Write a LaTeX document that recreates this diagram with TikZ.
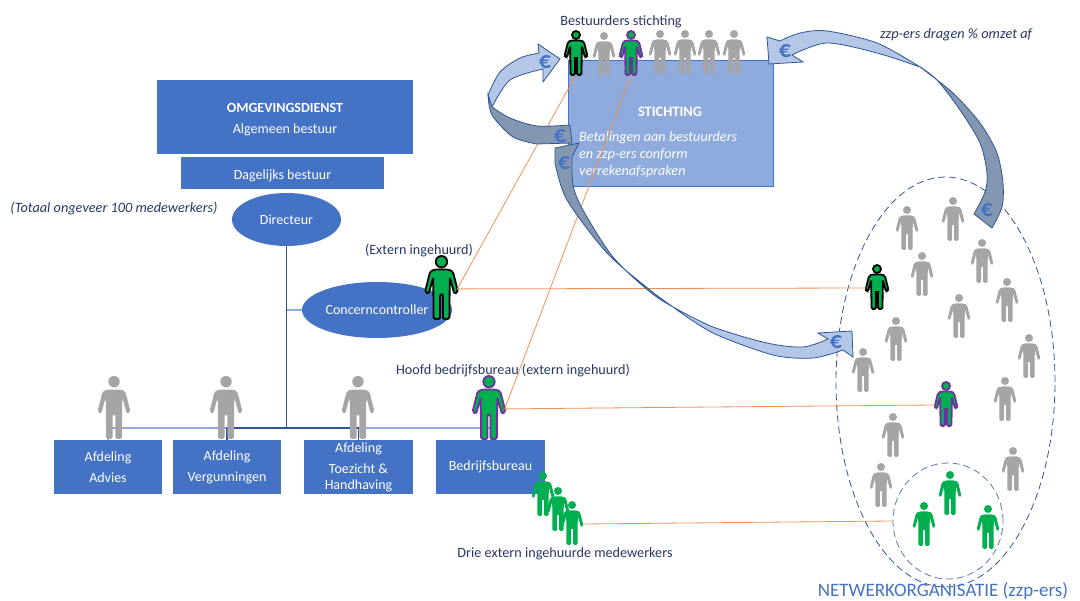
\documentclass[tikz,border=0pt]{standalone}
\usepackage{fontspec}
\setmainfont{Carlito}
\usetikzlibrary{positioning,shapes.geometric}
\definecolor{odblauw}{RGB}{68,114,196}
\definecolor{stichtblauw}{RGB}{143,170,220}
\definecolor{pijllicht}{RGB}{180,199,231}
\definecolor{pijldonker}{RGB}{132,151,176}
\definecolor{pijlrand}{RGB}{47,85,151}
\definecolor{tekstblauw}{RGB}{38,56,100}
\definecolor{lijnoranje}{RGB}{240,145,80}
\definecolor{persgrijs}{RGB}{165,165,165}
\definecolor{persgroen}{RGB}{0,176,80}
\definecolor{perspaars}{RGB}{112,48,160}
\tikzset{
	blok/.style={fill=odblauw, text=white, inner sep=0pt, align=center, font=\fontsize{14}{16}\selectfont},
	ovaal/.style={blok, ellipse},
	label/.style={text=tekstblauw, inner sep=0pt, font=\fontsize{14.2}{16}\selectfont},
	euro/.style={text=odblauw, inner sep=0pt, font=\fontsize{24}{24}\selectfont\bfseries},
	oranje/.style={draw=lijnoranje, line width=0.8pt},
	lijnlicht/.style={draw=stichtblauw, line width=1.3pt},
	lijndonker/.style={draw=pijlrand, line width=1.3pt},
	licht/.style={fill=pijllicht, draw=pijlrand, line width=0.8pt, line join=miter},
	donker/.style={fill=pijldonker, draw=pijlrand, line width=0.8pt},
	kring/.style={draw=#1, dashed, dash pattern=on 7pt off 4pt, ellipse, inner sep=0pt, line width=0.8pt},
	grijs/.style={fill=persgrijs},
	groen/.style={fill=persgroen},
	zwart/.style={fill=persgroen, draw=black, line width=1.8pt},
	paars/.style={fill=persgroen, draw=perspaars, line width=1.8pt},
	persoon/.pic={
		\path[pic actions] (0,4) circle (4);
		\path[pic actions, rounded corners=1.5] (-5,9.5) -- (5,9.5) -- (8,11) -- (11.5,25) -- (9,26.5) -- (5.8,15)
			-- (5.5,44) -- (1,44) -- (1,27) -- (-1,27) -- (-1,44) -- (-5.5,44) -- (-5.8,15) -- (-9,26.5) -- (-11.5,25) -- (-8,11) -- cycle;
		\coordinate (-rechts) at (11,23);
		\coordinate (-links) at (-11,23);
		\coordinate (-voet) at (0,44);
	}
}
\begin{document}
\begin{tikzpicture}[x=1pt, y=-1pt]
	\useasboundingbox (0,0) rectangle (1080,601);

	% organisatie links
	\node[blok, minimum width=256, minimum height=74] (algemeen) at (285,117) {\rule{0pt}{15pt}\textbf{OMGEVINGSDIENST}\\[5pt]Algemeen bestuur};
	\node[blok, minimum width=203, minimum height=32.5] (dagelijks) at (282.5,173.2) {\rule{0pt}{15pt}Dagelijks bestuur};
	\node[ovaal, minimum width=109, minimum height=53] (directeur) at (286.5,219.5) {Directeur};
	\node[ovaal, minimum width=150, minimum height=56] (concern) at (377,310) {Concerncontroller};
	\node[blok, minimum width=108.5, minimum height=54] (advies) at (108,467) {Afdeling\\[5pt]Advies};
	\node[blok, minimum width=108, minimum height=54] (vergunning) at (227,467) {Afdeling\\[5pt]Vergunningen};
	\node[blok, minimum width=109, minimum height=54] (toezicht) at (358.5,467) {Afdeling\\[5pt]Toezicht \&\\Handhaving};
	\node[blok, minimum width=108.5, minimum height=54] (bureau) at (490.5,467) {Bedrijfsbureau};

	\coordinate (hub) at (directeur.south |- 0,428);
	\draw[lijnlicht] (hub) -| (advies.north);
	\draw[lijnlicht] (hub) -| (bureau.north);
	\draw[lijnlicht] (directeur.south |- concern.west) -- (concern.west);
	\draw[lijndonker] (hub) -| (vergunning.north);
	\draw[lijndonker] (hub) -| (toezicht.north);
	\draw[lijndonker] (directeur.south) -- (hub);

	% stichting en netwerk
	\node[fill=stichtblauw, draw=odblauw, line width=0.9pt, minimum width=205, minimum height=126, inner sep=0pt] (stichting) at (670.5,123) {};
	\node[text=white, inner sep=0pt, font=\fontsize{14.4}{16}\selectfont\bfseries] (stichtkop) at (670,112) {STICHTING};
	\node[inner sep=0pt, text=white, align=left, anchor=north west, font=\fontsize{14.2}{17}\selectfont\itshape] (stichttekst) at (579,131) {Betalingen aan bestuurders\\en zzp-ers conform\\verrekenafspraken};
	\node[kring=pijlrand, minimum width=219, minimum height=410] (netwerk) at (945.5,382) {};
	\node[kring=pijlrand!80, minimum width=110, minimum height=116] (extern) at (948,521) {};

	% personen
	\foreach \x/\y in {604/32,660/30,685/30,709/30,734/30,907/206,953/197,982/239,922/252,1007/278,959/294,896/317,863/348,1029/334,1005/377,893/413,881/463,1013/447}
		\pic[grijs] at (\x,\y) {persoon};
	\foreach \x in {114,226,358}
		\pic[grijs, scale=1.43] at (\x,376) {persoon};
	\pic[zwart] (bestzwart) at (576,31) {persoon};
	\pic[paars] (bestpaars) at (631,31) {persoon};
	\pic[zwart] (netzwart) at (877,265) {persoon};
	\pic[paars] (netpaars) at (946,382) {persoon};
	\pic[zwart, scale=1.43] (ctrl) at (441.5,256) {persoon};
	\pic[paars, scale=1.43] (hoofd) at (489,376) {persoon};
	\foreach \x/\y/\n in {543/472/a,558/487/b,572/501/c}
		\pic[groen] (drie\n) at (\x,\y) {persoon};
	\foreach \x/\y in {950/471,924/502,988/505}
		\pic[groen] at (\x,\y) {persoon};

	% lijnen
	\draw[oranje] (ctrl-rechts) -- (bestzwart-voet);
	\draw[oranje] (hoofd-rechts) -- (bestpaars-voet);
	\draw[oranje] (ctrl-rechts) -- (netzwart-links);
	\draw[oranje] (hoofd-rechts) -- (netpaars-links);
	\draw[oranje] (driec-rechts) -- (extern.west);

	% geldstromen
	\draw[donker] (555,148) -- plot[smooth] coordinates {(555,163) (567,200) (607,253) (650,290) (673,307)} -- plot[smooth] coordinates {(673,307) (650,292) (613,257) (583,210) (573,185) (572,157)} -- (579,143) -- cycle;
	\draw[licht] (673,307) -- plot[smooth] coordinates {(673,307) (713,333) (773,355) (813,358) (843,350)} -- (853,357) -- (852,331) -- (818,333) -- (828,339) -- plot[smooth] coordinates {(828,339) (803,347) (767,343) (713,327) (673,307)} -- cycle;
	\draw[licht] (560,59) -- (543,82) -- (543,69) -- plot[smooth] coordinates {(543,69) (510,80) (492,107)} -- (488,95) -- plot[smooth] coordinates {(488,95) (500,72) (520,58) (539,53)} -- (538,44) -- cycle;
	\draw[donker] (488,95) -- plot[smooth] coordinates {(488,95) (492,115) (513,137) (537,144)} -- (572,143) -- (570,125) -- plot[smooth] coordinates {(570,125) (537,126) (510,118) (492,107)} -- cycle;
	\draw[licht] (767,37) -- (780,41) -- plot[smooth] coordinates {(780,41) (800,33) (827,31) (877,43) (920,67)} -- plot[smooth] coordinates {(920,67) (877,53) (827,43) (792,55)} -- (803,62) -- (769,64) -- cycle;
	\draw[donker] (920,67) -- plot[smooth] coordinates {(920,67) (953,93) (980,123) (997,153) (1003,183) (1002,207) (992,228)} -- (974,214) -- plot[smooth] coordinates {(974,214) (985,192) (987,173) (980,143) (960,110) (937,80) (920,67)} -- cycle;

	\node[euro] (euro1) at (545,62) {€};
	\node[euro] (euro2) at (560,136) {€};
	\node[euro] (euro3) at (564,163) {€};
	\node[euro] (euro4) at (836,342) {€};
	\node[euro] (euro5) at (785,51) {€};
	\node[euro] (euro6) at (987,210) {€};

	% teksten
	\node[label, font=\fontsize{14.3}{16}\selectfont\itshape] (totaal) at (114,209) {(Totaal ongeveer 100 medewerkers)};
	\node[label] (inhuur) at (419,251) {(Extern ingehuurd)};
	\node[label] (hoofdtekst) at (513,371) {Hoofd bedrijfsbureau (extern ingehuurd)};
	\node[label] (drietekst) at (565,554) {Drie extern ingehuurde medewerkers};
	\node[label] (besttekst) at (621,22) {Bestuurders stichting};
	\node[label, font=\fontsize{14.3}{16}\selectfont\itshape] (afdracht) at (956,35) {zzp-ers dragen \% omzet af};
	\node[text=odblauw, inner sep=0pt, font=\fontsize{19}{20}\selectfont] (nettekst) at (943,591) {NETWERKORGANISATIE (zzp-ers)};
\end{tikzpicture}
\end{document}
